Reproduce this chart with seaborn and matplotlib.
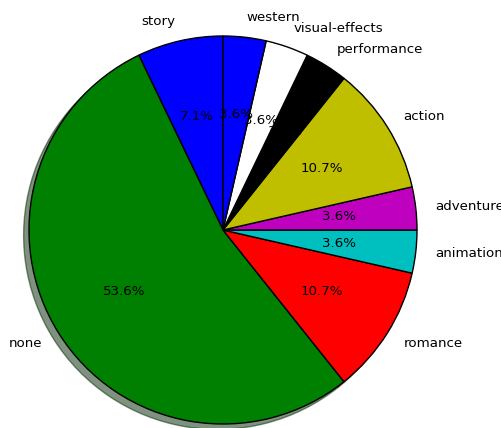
import matplotlib
matplotlib.use("Agg")
import matplotlib.pyplot as plt
import seaborn as sns

# ---- data ----
genres = ["story", "none", "romance", "animation", "adventure",
          "action", "performance", "visual-effects", "western"]
counts = [2, 15, 3, 1, 1, 3, 1, 1, 1]
colors = ["b", "g", "r", "c", "m", "y", "k", "w", "b"]

sns.set_style("white")
plt.rcParams["font.family"] = ["DejaVu Sans"]
plt.rcParams["font.size"] = 9.6
plt.rcParams["text.color"] = "black"

fig = plt.figure(figsize=(5.02, 4.28), dpi=100)
ax = fig.add_axes([0, 0, 1, 1])

ax.pie(counts, labels=genres, colors=colors, autopct="%1.1f%%",
       startangle=90, shadow=True,
       wedgeprops={"edgecolor": "black", "linewidth": 1.0},
       textprops={"color": "black"})

# place the pie: centre at (223, 230) px, radius ~194 px
r = 194.0
ax.set_xlim(-223 / r, (502 - 223) / r)
ax.set_ylim(-(428 - 230) / r, 230 / r)
ax.set_aspect("auto")
ax.axis("off")

fig.savefig("out.png", dpi=100)
